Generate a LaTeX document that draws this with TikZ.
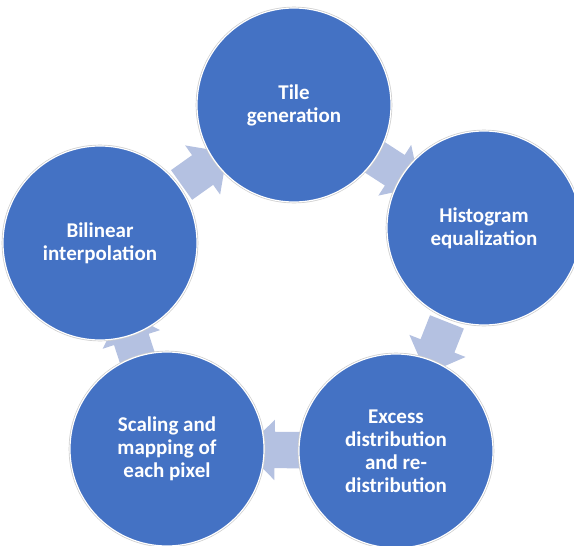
\documentclass[tikz,border=0pt]{standalone}
\usepackage{fontspec}
\setmainfont{Carlito}
\usepackage{xcolor}
\usepackage{tikz}
\usetikzlibrary{shapes.arrows, backgrounds}

\definecolor{stageblue}{HTML}{4472C4}
\definecolor{flowblue}{HTML}{B4C1E1}

\tikzset{
  stage/.style={circle, fill=stageblue, draw=white, line width=1.2pt,
    preaction={draw=gray!40, line width=2.6pt},
    minimum size=194pt, inner sep=0pt, align=center, text=white,
    font=\bfseries\fontsize{21}{23}\selectfont},
  flow/.style={single arrow, fill=flowblue, draw=none, sloped, allow upside down,
    inner xsep=0pt, inner ysep=18pt, minimum height=56pt,
    single arrow head extend=12pt},
}

\begin{document}
\begin{tikzpicture}[x=1pt, y=-1pt]
\useasboundingbox (0,0) rectangle (574,546);
% the five stages
\node[stage] (tile) at (294,105) {Tile\\generation};
\node[stage] (histeq) at (484,228) {Histogram\\equalization};
\node[stage] (excess) at (396,451) {Excess\\distribution\\and re-\\distribution};
\node[stage] (scaling) at (167,449) {Scaling and\\mapping of\\each pixel};
\node[stage] (bilinear) at (100,243) {Bilinear\\interpolation};
% block arrows, under the circles
\begin{scope}[on background layer]
\path (tile) -- node[flow] (f1) {} (histeq);
\path (histeq) -- node[flow] (f2) {} (excess);
\path (excess) -- node[flow] (f3) {} (scaling);
\path (scaling) -- node[flow] (f4) {} (bilinear);
\path (bilinear) -- node[flow] (f5) {} (tile);
\end{scope}
\end{tikzpicture}
\end{document}
